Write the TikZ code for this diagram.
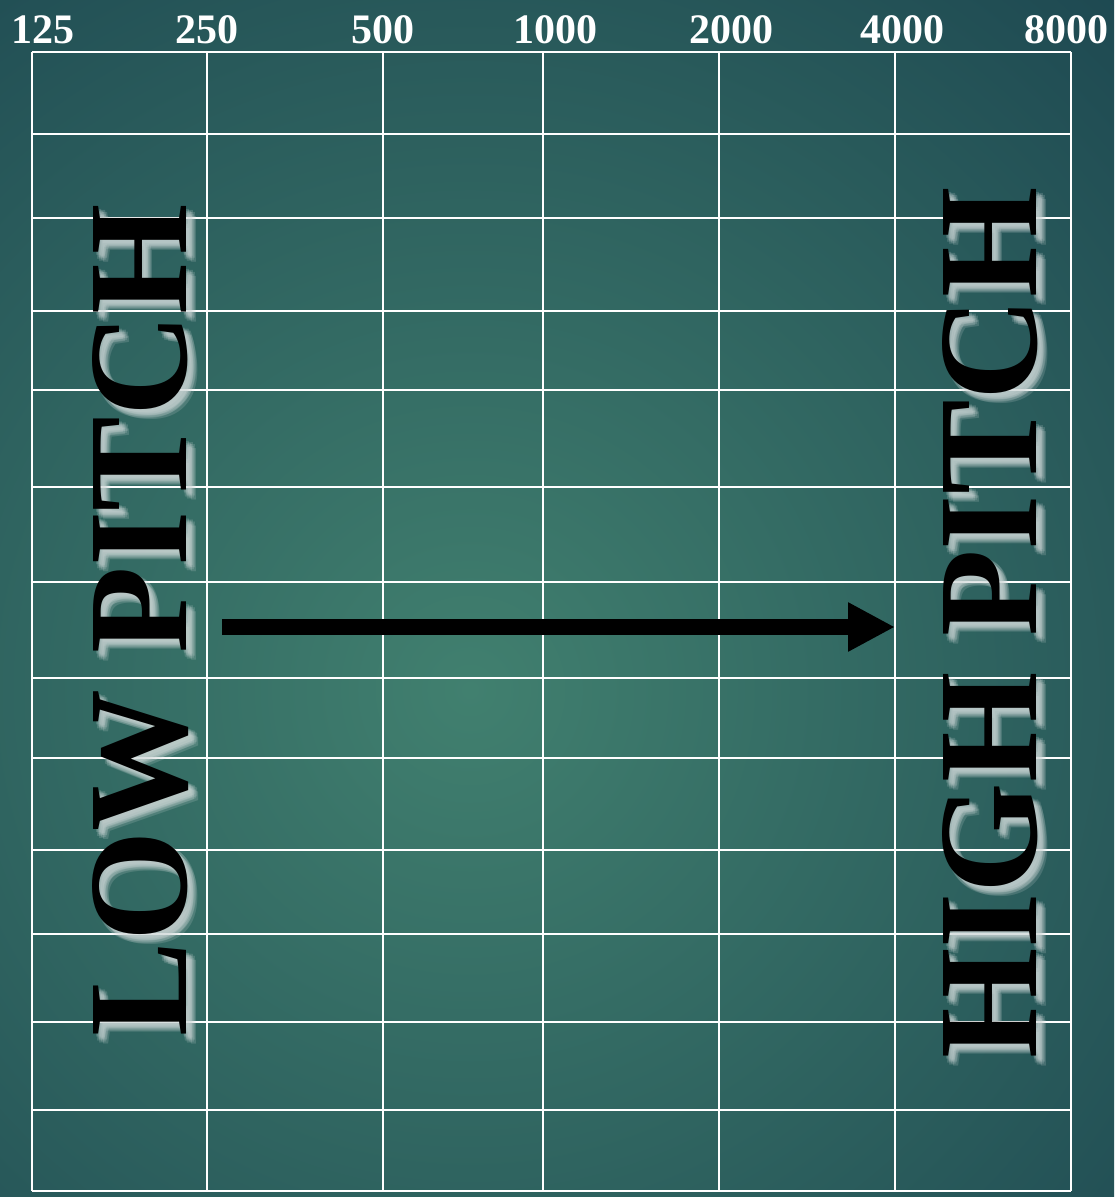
\documentclass[tikz,border=0pt]{standalone}
\usepackage{fontspec}
\setmainfont{Liberation Serif}
\usetikzlibrary{arrows.meta}
\definecolor{bgin}{HTML}{41806F}
\definecolor{bgout}{HTML}{1C4650}
\definecolor{shadowc}{HTML}{D4DCDC}
\tikzset{
  gridline/.style={draw=white, line width=2pt},
  freq/.style={anchor=base, text=white, font=\bfseries\fontsize{42}{42}\selectfont, inner sep=0pt},
  pitch/.style={anchor=base, rotate=90, font=\bfseries\fontsize{142}{142}\selectfont, inner sep=0pt},
  pitchshadow/.style={pitch, text=shadowc, opacity=0.18},
  bigarrow/.style={line width=16pt, -{Triangle[length=47pt,width=46pt]}, black}
}
\begin{document}
\begin{tikzpicture}[x=1pt,y=-1pt]
\useasboundingbox (0,0) rectangle (1114,1197);
\begin{scope}
\clip (0,0) rectangle (1114,1197);
\fill[bgout] (0,0) rectangle (1114,1197);
\shade[inner color=bgin, outer color=bgout] (470,690) circle (1000);
\end{scope}
% grid
\foreach \x in {32,207,383,543,719,895,1071} \draw[gridline] (\x,52) -- (\x,1191);
\foreach \y in {52,134,218,311,390,487,582,678,758,850,934,1022,1110,1191} \draw[gridline] (32,\y) -- (1071,\y);
% frequency labels
\node[freq] (f125) at (43,43) {125};
\node[freq] (f250) at (207,43) {250};
\node[freq] (f500) at (383,43) {500};
\node[freq] (f1000) at (555,43) {1000};
\node[freq] (f2000) at (731,43) {2000};
\node[freq] (f4000) at (902,43) {4000};
\node[freq] (f8000) at (1066,43) {8000};
% shadows of pitch labels
\foreach \dx/\dy in {5/5,8/8,7/4,4/7,9/6,6/9,6/6,3/3,10/10} {
  \node[pitchshadow] at (186+\dx,620+\dy) {LOW PITCH};
  \node[pitchshadow] at (1036+\dx,623+\dy) {HIGH PITCH};
}
\node[pitch] (low) at (186,620) {LOW PITCH};
\node[pitch] (high) at (1036,623) {HIGH PITCH};
% arrow
\coordinate (astart) at (222,627);
\coordinate (aend) at (895,627);
\draw[bigarrow] (astart) -- (aend);
\end{tikzpicture}
\end{document}
